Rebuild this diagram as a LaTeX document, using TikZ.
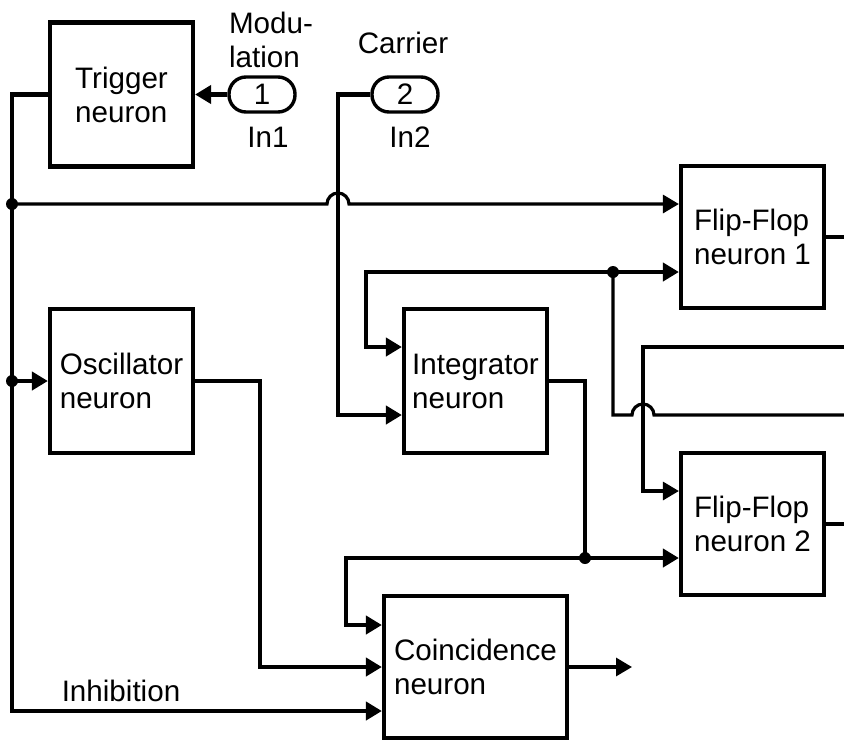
\documentclass[tikz,border=0pt]{standalone}
\usepackage{fontspec}
\setmainfont{Liberation Sans}
\usetikzlibrary{arrows.meta}
\begin{document}
\begin{tikzpicture}[x=1pt,y=-1pt,
  txt/.style={font=\fontsize{29.6}{34}\selectfont},
  blk/.style={txt,draw,line width=4.2pt,minimum width=143pt,minimum height=144pt,inner sep=0pt,align=left},
  port/.style={txt,draw,line width=3.4pt,rounded corners=17pt,minimum width=66pt,minimum height=35pt,inner sep=0pt},
  lbl/.style={txt,inner sep=0pt,align=left},
  wire/.style={line width=4.4pt},
  thinwire/.style={line width=3.2pt},
  arr/.style={-{Triangle[length=16pt,width=18pt]}},
  jdot/.style={circle,fill,inner sep=0pt,minimum size=12pt}]
\useasboundingbox (0,0) rectangle (844,740);
% blocks
\node[blk] (trig) at (121.5,94.5) {Trigger\\neuron};
\node[blk] (osc) at (121.5,381) {Oscillator\\neuron};
\node[blk] (integ) at (475.5,381) {Integrator\\neuron};
\node[blk,minimum height=142pt] (ff1) at (752.5,237) {Flip-Flop\\neuron 1};
\node[blk,minimum height=142pt] (ff2) at (752.5,524) {Flip-Flop\\neuron 2};
\node[blk,minimum width=183pt,minimum height=142pt] (coin) at (475.5,667) {Coincidence\\neuron};
% ports
\node[port] (p1) at (262,94.5) {1};
\node[port] (p2) at (405,94.5) {2};
% labels
\node[lbl] (lmod) at (271,39.5) {Modu-\\lation};
\node[lbl] (lcar) at (403,43) {Carrier};
\node[lbl] (lin1) at (268,137) {In1};
\node[lbl] (lin2) at (410,137) {In2};
\node[lbl] (linh) at (121,691) {Inhibition};
% coordinates
\coordinate (tl) at (12,94.5);
\coordinate (bl) at (12,711);
\coordinate (c1) at (338,94.5);
\coordinate (e1) at (844,347);
\coordinate (e2) at (844,415);
\coordinate (o1) at (844,237);
\coordinate (o2) at (844,524);
\coordinate (out) at (632,667);
% junction dots
\node[jdot] (j1) at (12,204) {};
\node[jdot] (j2) at (12,381) {};
\node[jdot] (j3) at (613,272) {};
\node[jdot] (j4) at (585,558) {};
% connectors
\draw[wire,arr] (p1.west) -- (trig.east);
\draw[wire,arr] (trig.west) -- (tl) -- (bl) -- ([yshift=-44pt]coin.west);
\draw[thinwire,arr] (j1.center) -- (327,204) arc[start angle=180,end angle=0,radius=11pt] -- ([yshift=33pt]ff1.west);
\draw[wire,arr] (j2.center) -- (osc.west);
\draw[wire,arr] (osc.east) -- (260,381) -- (260,667) -- (coin.west);
\draw[wire,arr] (p2.west) -- (c1) -- (338,415) -- ([yshift=-34pt]integ.west);
\draw[wire,arr] (j3.center) -- ([yshift=-35pt]ff1.west);
\draw[wire,arr] (j3.center) -- (366,272) -- (366,347) -- ([yshift=34pt]integ.west);
\draw[thinwire] (e2) -- (654,415) arc[start angle=0,end angle=180,radius=11pt] -- (613,415) -- (j3.center);
\draw[thinwire,arr] (e1) -- (643,347) -- (643,491) -- ([yshift=33pt]ff2.west);
\draw[wire] (integ.east) -- (585,381) -- (j4.center);
\draw[wire,arr] (j4.center) -- ([yshift=-34pt]ff2.west);
\draw[wire,arr] (j4.center) -- (346,558) -- (346,625) -- ([yshift=42pt]coin.west);
\draw[thinwire] (ff1.east) -- (o1);
\draw[thinwire] (ff2.east) -- (o2);
\draw[thinwire,arr] (coin.east) -- (out);
\end{tikzpicture}
\end{document}
